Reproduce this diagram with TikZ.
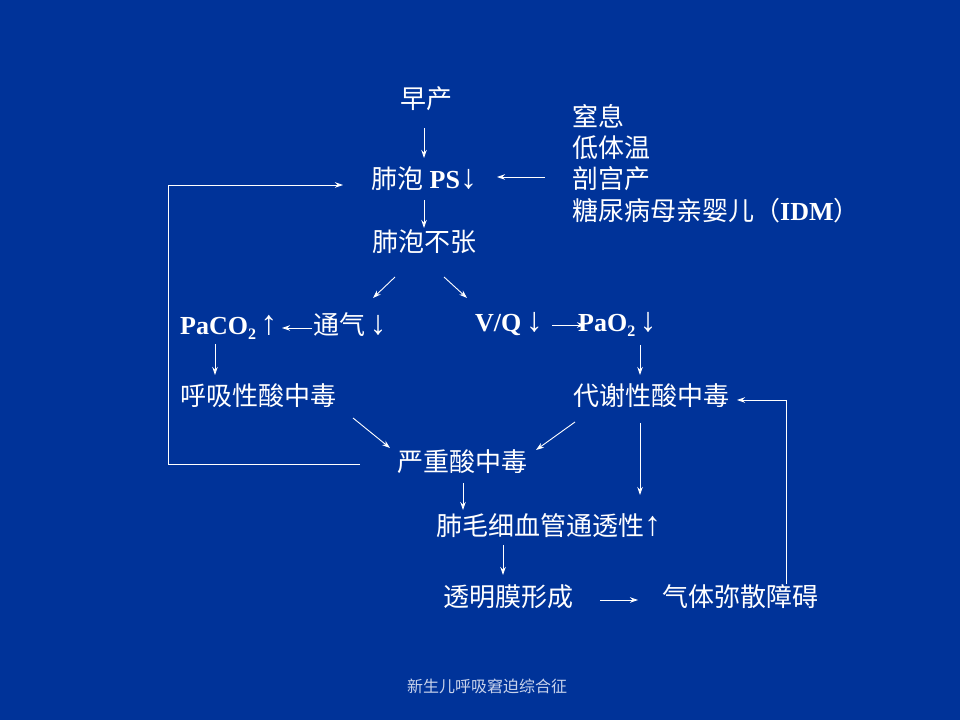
\documentclass[tikz,border=0pt]{standalone}
\usepackage{fontspec}
\setmainfont{Liberation Serif}
\newfontfamily\cjk{Noto Sans CJK SC}
\usetikzlibrary{arrows.meta}
\newcommand\lt[1]{{\rmfamily\bfseries #1}}
\newcommand\dn{{\rmfamily\bfseries\fontsize{34}{34}\selectfont ↓}}
\newcommand\upa{{\rmfamily\bfseries\fontsize{34}{34}\selectfont ↑}}
\newcommand\sub[1]{\raisebox{-5pt}{\rmfamily\bfseries\fontsize{16}{16}\selectfont #1}}
\definecolor{bgblue}{RGB}{0,51,153}
\definecolor{foot}{RGB}{200,210,235}
\begin{document}
\begin{tikzpicture}[x=1pt,y=1pt,
  txt/.style={text=white, inner sep=0pt, anchor=west, text height=22pt, text depth=4pt,
    font=\fontsize{26}{30}\selectfont\cjk},
  arr/.style={draw=white, line width=0.9pt, -{Stealth[length=8pt,width=5.5pt]}}]
\fill[bgblue] (0,0) rectangle (960,720);
\useasboundingbox (0,0) rectangle (960,720);

\node[txt] (zc) at (400,620) {早产};
\node[txt] (ps) at (371,540) {肺泡\lt{ PS}\dn};
\node[txt] (bz) at (372,477) {肺泡不张};
\node[txt] (c1) at (572,602) {窒息};
\node[txt] (c2) at (572,571) {低体温};
\node[txt] (c3) at (572,540) {剖宫产};
\node[txt] (c4) at (572,508) {糖尿病母亲婴儿（\lt{IDM}）};
\node[txt] (paco2) at (180,394) {\lt{PaCO}\sub{2}\,\upa};
\node[txt] (tq) at (313,394) {通气\,\dn};
\node[txt] (vq) at (475,397) {\lt{V/Q}\,\dn};
\node[txt] (pao2) at (578,397) {\lt{PaO}\sub{2}\,\dn};
\node[txt] (hx) at (180,323) {呼吸性酸中毒};
\node[txt] (dx) at (573,323) {代谢性酸中毒};
\node[txt] (yz) at (397,257) {严重酸中毒};
\node[txt] (fm) at (436,193) {肺毛细血管通透性\upa};
\node[txt] (tm) at (443,123) {透明膜形成};
\node[txt] (qt) at (662,123) {气体弥散障碍};
\node[text=foot, inner sep=0pt, font=\fontsize{16}{18}\selectfont\cjk] (ft) at (487,34) {新生儿呼吸窘迫综合征};

\draw[arr] ([xshift=24pt,yshift=-28pt]zc.west) -- ([xshift=53pt,yshift=22pt]ps.west);
\draw[arr] ([xshift=-27pt,yshift=3pt]c3.west) -- ([xshift=126pt,yshift=3pt]ps.west);
\draw[arr] ([xshift=53pt,yshift=-20pt]ps.west) -- ([xshift=52pt,yshift=15pt]bz.west);
\draw[arr] ([xshift=23pt,yshift=-34pt]bz.west) -- ([xshift=60pt,yshift=28pt]tq.west);
\draw[arr] ([xshift=72pt,yshift=-34pt]bz.west) -- ([xshift=-8pt,yshift=25pt]vq.west);
\draw[arr] ([xshift=-1pt,yshift=-2pt]tq.west) -- ([xshift=102pt,yshift=-2pt]paco2.west);
\draw[arr] ([xshift=77pt,yshift=-2pt]vq.west) -- ([xshift=7pt,yshift=-2pt]pao2.west);
\draw[arr] ([xshift=35pt,yshift=-18pt]paco2.west) -- ([xshift=35pt,yshift=22pt]hx.west);
\draw[arr] ([xshift=62pt,yshift=-22pt]pao2.west) -- ([xshift=67pt,yshift=22pt]dx.west);
\draw[arr] ([xshift=173pt,yshift=-21pt]hx.west) -- ([xshift=-7pt,yshift=15pt]yz.west);
\draw[arr] ([xshift=2pt,yshift=-25pt]dx.west) -- ([xshift=139pt,yshift=13pt]yz.west);
\draw[arr] ([xshift=67pt,yshift=-26pt]dx.west) -- ([xshift=204pt,yshift=32pt]fm.west);
\draw[arr] ([xshift=66pt,yshift=-20pt]yz.west) -- ([xshift=27pt,yshift=17pt]fm.west);
\draw[arr] ([xshift=67pt,yshift=-18pt]fm.west) -- ([xshift=60pt,yshift=22pt]tm.west);
\draw[arr] ([xshift=157pt,yshift=-3pt]tm.west) -- ([xshift=-24pt,yshift=-3pt]qt.west);
\draw[arr] ([xshift=124pt,yshift=13pt]qt.west) |- ([xshift=164pt,yshift=-3pt]dx.west);
\draw[arr] ([xshift=-37pt,yshift=-1pt]yz.west) -- ++(-192,0) |- ([xshift=-28pt,yshift=-5pt]ps.west);
\end{tikzpicture}
\end{document}
